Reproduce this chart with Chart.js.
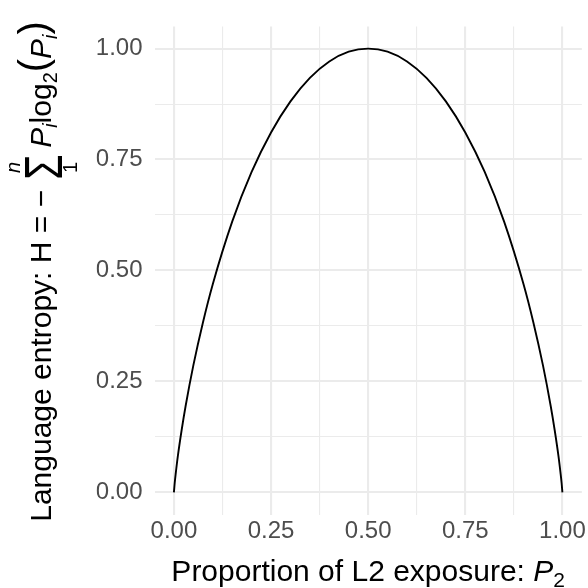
<!DOCTYPE html>
<html>
<head>
<meta charset="utf-8">
<script src="https://cdn.jsdelivr.net/npm/chart.js@4.4.1/dist/chart.umd.min.js"></script>
<style>
  html, body { margin: 0; padding: 0; background: #fff; }
  #wrap { width: 588px; height: 588px; }
</style>
</head>
<body>
<div id="wrap"><canvas id="entropyChart" width="588" height="588"></canvas></div>
<script>
  // Values
  var proportionL2 = [0, 0.002, 0.005, 0.01, 0.02, 0.03, 0.05, 0.075, 0.1,
    0.15, 0.2, 0.25, 0.3, 0.35, 0.4, 0.45, 0.5, 0.55, 0.6, 0.65, 0.7, 0.75, 0.8, 0.85,
    0.9, 0.925, 0.95, 0.97, 0.98, 0.99, 0.995, 0.998, 1];
  var entropyH = [0, 0.021, 0.045, 0.081, 0.141, 0.194, 0.286, 0.384, 0.469,
    0.610, 0.722, 0.811, 0.881, 0.934, 0.971, 0.993, 1.0, 0.993, 0.971, 0.934, 0.881, 0.811, 0.722, 0.610,
    0.469, 0.384, 0.286, 0.194, 0.141, 0.081, 0.045, 0.021, 0];

  // Major ticks get labels, minor ticks only a grid line
  var gridValues = [0, 0.125, 0.25, 0.375, 0.5, 0.625, 0.75, 0.875, 1];
  var majorTickLabels = { '0': '0.00', '0.25': '0.25', '0.5': '0.50', '0.75': '0.75', '1': '1.00' };

  var F = '"Liberation Sans", Arial, sans-serif';

  function isMajor(v) {
    return majorTickLabels.hasOwnProperty(String(v));
  }

  function buildTicks(scale) {
    scale.ticks = gridValues.map(function(v) { return { value: v }; });
  }

  function gridStyle() {
    return {
      color: '#ebebeb',
      lineWidth: function(c) { return isMajor(c.tick && c.tick.value) ? 2.1 : 1.1; },
      drawTicks: false
    };
  }

  // Draws a row of text pieces centred on cx, baseline at y
  function drawRun(ctx, parts, cx, y) {
    var total = 0;
    parts.forEach(function(p) {
      if (p.sigma) {
        p.w = p.width;
      } else {
        ctx.font = p.font;
        p.w = ctx.measureText(p.text).width;
      }
      total += (p.gapBefore || 0) + p.w + (p.gapAfter || 0);
    });
    var x = cx - total / 2;
    parts.forEach(function(p) {
      x += p.gapBefore || 0;
      if (p.sigma) {
        ctx.save();
        ctx.translate(x, y + 11);
        ctx.scale(p.width / 22, 1.5);
        ctx.font = '36px ' + F;
        ctx.textAlign = 'left';
        ctx.fillText('\u03A3', 0, 0);
        ctx.restore();
        ctx.save();
        ctx.textAlign = 'center';
        ctx.font = 'italic 20px ' + F;
        ctx.fillText('n', x + p.width / 2, y - 31);
        ctx.font = '20px ' + F;
        ctx.fillText('1', x + p.width / 2, y + 26);
        ctx.restore();
      } else {
        ctx.font = p.font;
        ctx.textAlign = 'left';
        ctx.fillText(p.text, x, y + (p.dy || 0));
      }
      x += p.w + (p.gapAfter || 0);
    });
  }

  var axisTitles = {
    id: 'axisTitles',
    afterDraw: function(chart) {
      var ctx = chart.ctx;
      var area = chart.chartArea;
      ctx.save();
      ctx.fillStyle = '#000000';
      ctx.textBaseline = 'alphabetic';

      drawRun(ctx, [
        { text: 'Proportion of L2 exposure: ', font: '30px ' + F },
        { text: 'P', font: 'italic 30px ' + F },
        { text: '2', font: '21px ' + F, dy: 6 }
      ], (area.left + area.right) / 2, 581);

      ctx.translate(51, (area.top + area.bottom) / 2 + 1);
      ctx.rotate(-Math.PI / 2);
      drawRun(ctx, [
        { text: 'Language entropy: H = \u2212', font: '30px ' + F },
        { sigma: true, width: 25, gapBefore: 10, gapAfter: 7 },
        { text: 'P', font: 'italic 30px ' + F },
        { text: 'i', font: 'italic 20px ' + F, dy: 6 },
        { text: 'log', font: '30px ' + F },
        { text: '2', font: '20px ' + F, dy: 6 },
        { text: '(', font: '40px ' + F, dy: -4 },
        { text: 'P', font: 'italic 30px ' + F },
        { text: 'i', font: 'italic 20px ' + F, dy: 6 },
        { text: ')', font: '40px ' + F, dy: -4 }
      ], 0, 0);
      ctx.restore();
    }
  };

  var points = proportionL2.map(function(x, i) {
    return { x: x, y: entropyH[i] };
  });

  new Chart(document.getElementById('entropyChart').getContext('2d'), {
    type: 'line',
    data: {
      datasets: [{
        data: points,
        borderColor: '#000000',
        borderWidth: 1.9,
        pointRadius: 0,
        fill: false,
        cubicInterpolationMode: 'monotone'
      }]
    },
    options: {
      responsive: false,
      animation: false,
      layout: { padding: { left: 96.5, right: 5.5, top: 18.5, bottom: 33.5 } },
      plugins: {
        legend: { display: false },
        tooltip: { enabled: false }
      },
      scales: {
        x: {
          type: 'linear',
          min: -0.05,
          max: 1.05,
          afterBuildTicks: buildTicks,
          afterFit: function(scale) { scale.height = 40; },
          border: { display: false },
          grid: gridStyle(),
          ticks: {
            autoSkip: false,
            maxRotation: 0,
            padding: 2,
            color: '#4d4d4d',
            font: { family: F, size: 24 },
            callback: function(v) { return isMajor(v) ? majorTickLabels[String(v)] : ''; }
          }
        },
        y: {
          type: 'linear',
          min: -0.05,
          max: 1.05,
          afterBuildTicks: buildTicks,
          afterFit: function(scale) { scale.width = 58; },
          border: { display: false },
          grid: gridStyle(),
          ticks: {
            autoSkip: false,
            padding: 12,
            color: '#4d4d4d',
            font: { family: F, size: 24 },
            callback: function(v) { return isMajor(v) ? majorTickLabels[String(v)] : ''; }
          }
        }
      }
    },
    plugins: [axisTitles]
  });
</script>
</body>
</html>
